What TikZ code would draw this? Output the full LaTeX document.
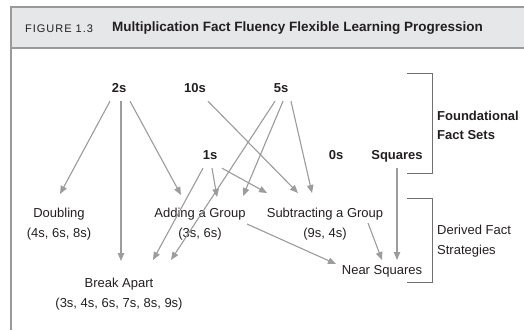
\documentclass[tikz,border=0pt]{standalone}
\usepackage{fontspec}
\setmainfont{Liberation Sans}
\newfontfamily\figfont[LetterSpace=9]{Liberation Sans}
\usetikzlibrary{arrows.meta}
\definecolor{bandgray}{HTML}{E6E7E8}
\definecolor{linegray}{HTML}{9A9A9A}
\definecolor{arrowgray}{HTML}{9C9C9C}
\definecolor{brackgray}{HTML}{707070}
\definecolor{inkgray}{HTML}{231F20}

\begin{document}
\begin{tikzpicture}[x=1pt,y=-1pt]
	% Styles
	\tikzset{fact/.style={font=\fontsize{13}{15}\selectfont\bfseries, text=inkgray, text height=9.4pt, text depth=0pt, inner xsep=2pt, inner ysep=8.3pt}}
	\tikzset{strat/.style={anchor=north, align=center, font=\fontsize{13}{20}\selectfont, text=inkgray, inner sep=0pt}}
	\tikzset{arr/.style={draw=arrowgray, fill=arrowgray, line width=1.1pt, -{Triangle[length=8pt,width=6.5pt]}}}
	\tikzset{brack/.style={draw=brackgray, line width=1pt}}
	\useasboundingbox (0,0) rectangle (524,330);

	% Draw the header band and frame
	\fill[bandgray] (11,7) rectangle (524,48);
	\draw[linegray, line width=1.2pt] (524,7) -- (11,7) -- (11,330);
	\draw[linegray, line width=1.2pt] (11,48) -- (524,48);
	\node [anchor=west, inner sep=0pt, text=inkgray] (fig) at (25,28.5) {\figfont\fontsize{11}{13}\selectfont FIGURE 1.3};
	\node [anchor=west, inner sep=0pt, text=inkgray, font=\fontsize{13.5}{15}\selectfont\bfseries] (title) at (112,28.5) {Multiplication Fact Fluency Flexible Learning Progression};

	% Foundational fact sets
	\node [fact] (two) at (119,88) {2s};
	\node [fact] (ten) at (195,88) {10s};
	\node [fact] (five) at (281,88) {5s};
	\node [fact] (one) at (210,155) {1s};
	\node [fact] (zero) at (336,155) {0s};
	\node [fact] (sq) at (397,155) {Squares};

	% Derived fact strategies
	\node [strat] (dbl) at (59,207.7) {Doubling\\(4s, 6s, 8s)};
	\node [strat] (add) at (200,207.7) {Adding a Group\\(3s, 6s)};
	\node [strat] (sub) at (325,207.7) {Subtracting a Group\\(9s, 4s)};
	\node [strat] (brk) at (119,277.7) {Break Apart\\(3s, 4s, 6s, 7s, 8s, 9s)};
	\node [strat] (near) at (382,265.7) {Near Squares};

	% Brackets
	\draw[brack] (407,73) -- (432,73) -- (432,173) -- (407,173);
	\draw[brack] (407,198) -- (432,198) -- (432,282) -- (407,282);
	\node [anchor=north west, align=left, inner sep=0pt, text=inkgray, font=\fontsize{13}{19}\selectfont\bfseries] (found) at (437,110.6) {Foundational\\Fact Sets};
	\node [anchor=north west, align=left, inner sep=0pt, text=inkgray, font=\fontsize{13}{20}\selectfont] (derived) at (437,224.7) {Derived Fact\\Strategies};

	% Arrows from 2s, 10s and 5s
	\draw[arr] ([xshift=-9pt]two.south) -- ([xshift=1pt,yshift=13.7pt]dbl.north);
	\draw[arr] ([xshift=2pt]two.south) -- ([xshift=2pt,yshift=16.7pt]brk.north);
	\draw[arr] ([xshift=11pt]two.south) -- ([xshift=-19pt,yshift=12.7pt]add.north);
	\draw[arr] ([xshift=13pt]ten.south) -- ([xshift=-27pt,yshift=14.7pt]sub.north);
	\draw[arr] ([xshift=-6pt]five.south) -- ([xshift=52pt,yshift=17.7pt]brk.north);
	\draw[arr] ([xshift=2pt]five.south) -- ([xshift=43pt,yshift=11.7pt]add.north);
	\draw[arr] ([xshift=10pt]five.south) -- ([xshift=-13pt,yshift=14.7pt]sub.north);

	% Arrows from 1s and Squares
	\draw[arr] ([xshift=-7pt]one.south) -- ([xshift=34pt,yshift=17.7pt]brk.north);
	\draw[arr] ([xshift=2pt]one.south) -- ([xshift=17pt,yshift=10.7pt]add.north);
	\draw[arr] ([xshift=12pt]one.south) -- ([xshift=-58pt,yshift=14.7pt]sub.north);
	\draw[arr] (sq.south) -- ([xshift=15pt,yshift=5.7pt]near.north);

	% Arrows into Near Squares
	\draw[arr] ([xshift=47pt,yshift=-16.3pt]add.north) -- ([xshift=-46pt,yshift=1.7pt]near.north);
	\draw[arr] ([xshift=43pt,yshift=-15.3pt]sub.north) -- ([yshift=5.7pt]near.north);
\end{tikzpicture}
\end{document}
